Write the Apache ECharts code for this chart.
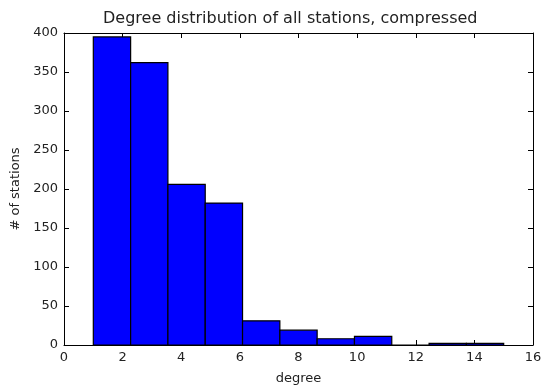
<!DOCTYPE html>
<html><head><meta charset="utf-8">
<script src="https://cdn.jsdelivr.net/npm/echarts@6/dist/echarts.min.js"></script>
<style>html,body{margin:0;padding:0;background:#fff}#c{width:542px;height:385px}</style>
</head><body><div id="c"></div>
<script>
var binEdges = [1, 2.273, 3.545, 4.818, 6.091, 7.364, 8.636, 9.909, 11.182, 12.455, 13.727, 15];
var counts = [395, 362, 206, 182, 31, 19, 8, 11, 0, 2, 2];
var xTicks = [0, 2, 4, 6, 8, 10, 12, 14, 16];
var yTicks = [0, 50, 100, 150, 200, 250, 300, 350, 400];
var title = 'Degree distribution of all stations, compressed';
var xLabel = 'degree';
var yLabel = '# of stations';

var data = counts.map(function (c, i) { return [binEdges[i], binEdges[i + 1], c]; });
var font = 'DejaVu Sans';
var txt = '#222';
var chart = echarts.init(document.getElementById('c'), null, {renderer: 'canvas'});
function axisCommon() {
  return {
    axisLine: {show: true, onZero: false, lineStyle: {color: '#000', width: 1}},
    axisTick: {show: true, inside: true, length: 5, lineStyle: {color: '#000'}},
    splitLine: {show: false}
  };
}
chart.setOption({
  animation: false,
  title: {text: title, left: 98, top: 6, textStyle: {fontFamily: font, fontSize: 16, fontWeight: 'normal', color: txt}},
  grid: {left: 64, right: 9, top: 33, bottom: 40, containLabel: false, outerBoundsMode: 'none'},
  xAxis: [
    Object.assign({type: 'value', min: xTicks[0], max: xTicks[xTicks.length - 1], interval: 2, position: 'bottom',
      name: xLabel, nameLocation: 'middle', nameGap: 27,
      nameTextStyle: {fontFamily: font, fontSize: 13, color: txt},
      axisLabel: {fontFamily: font, fontSize: 13, color: txt, margin: 6}}, axisCommon()),
    Object.assign({type: 'value', min: xTicks[0], max: xTicks[xTicks.length - 1], interval: 2, position: 'top',
      axisLabel: {show: false}}, axisCommon())
  ],
  yAxis: [
    Object.assign({type: 'value', min: yTicks[0], max: yTicks[yTicks.length - 1], interval: 50, position: 'left',
      name: yLabel, nameLocation: 'middle', nameGap: 42,
      nameTextStyle: {fontFamily: font, fontSize: 13, color: txt},
      axisLabel: {fontFamily: font, fontSize: 13, color: txt, margin: 6}}, axisCommon()),
    Object.assign({type: 'value', min: yTicks[0], max: yTicks[yTicks.length - 1], interval: 50, position: 'right',
      axisLabel: {show: false}}, axisCommon())
  ],
  series: [{
    type: 'custom',
    xAxisIndex: 0, yAxisIndex: 0,
    data: data,
    renderItem: function (params, api) {
      var p0 = api.coord([api.value(0), 0]);
      var p1 = api.coord([api.value(1), api.value(2)]);
      return {
        type: 'rect',
        shape: {x: p0[0], y: p1[1], width: p1[0] - p0[0], height: p0[1] - p1[1]},
        style: {fill: '#0000ff', stroke: '#000', lineWidth: 1.2}
      };
    }
  }]
});
</script></body></html>
